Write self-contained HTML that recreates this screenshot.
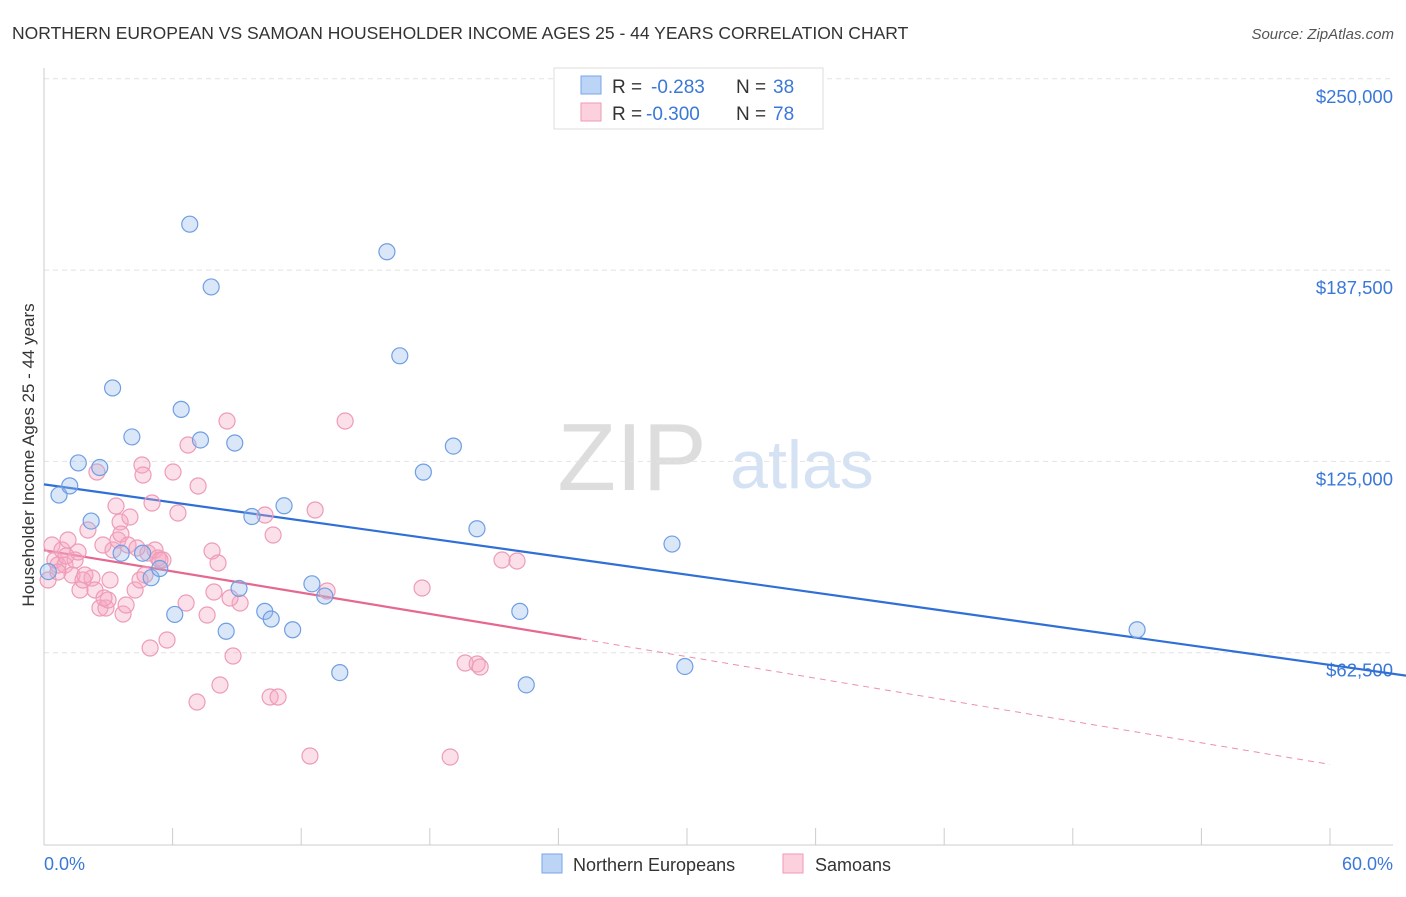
<!DOCTYPE html>
<html><head><meta charset="utf-8"><style>
body{margin:0;background:#fff;font-family:"Liberation Sans",sans-serif}
svg text{font-family:"Liberation Sans",sans-serif}
</style></head><body>
<svg id="chart" width="1406" height="892" viewBox="0 0 1406 892" xmlns="http://www.w3.org/2000/svg">
<text x="12" y="39" font-size="17.5" fill="#333">NORTHERN EUROPEAN VS SAMOAN HOUSEHOLDER INCOME AGES 25 - 44 YEARS CORRELATION CHART</text>
<text x="1394" y="39" font-size="15" fill="#555" text-anchor="end" font-style="italic">Source: ZipAtlas.com</text>
<g>
<text x="632" y="490" font-size="96" fill="#ddd" text-anchor="middle" font-family="Liberation Serif,serif">ZIP</text>
<text x="802" y="488" font-size="68" fill="#d4e2f4" text-anchor="middle">atlas</text>
</g>
<g id="grid"></g><g id="axes"></g>
<g id="lines"></g><g id="points"></g>
<text transform="translate(34,455) rotate(-90)" font-size="17" fill="#333" text-anchor="middle">Householder Income Ages 25 - 44 years</text>
<text x="44" y="870" font-size="18" fill="#3a78d8">0.0%</text>
<text x="1393" y="870" font-size="18" fill="#3a78d8" text-anchor="end">60.0%</text>
<g>
<rect x="554" y="68" width="269" height="61" fill="#fff" stroke="#ddd"/>
<rect x="581" y="76" width="20" height="18" fill="#bcd4f5" stroke="#7aa6e8"/>
<rect x="581" y="103" width="20" height="18" fill="#fcd0dd" stroke="#ef9ab5"/>
<text x="612" y="93" font-size="19" fill="#333">R =</text>
<text x="651" y="93" font-size="19" fill="#3a78d8">-0.283</text>
<text x="736" y="93" font-size="19" fill="#333">N =</text>
<text x="773" y="93" font-size="19" fill="#3a78d8">38</text>
<text x="612" y="120" font-size="19" fill="#333">R =</text>
<text x="646" y="120" font-size="19" fill="#3a78d8">-0.300</text>
<text x="736" y="120" font-size="19" fill="#333">N =</text>
<text x="773" y="120" font-size="19" fill="#3a78d8">78</text>
</g>
<g>
<rect x="542" y="854" width="20" height="19" fill="#bcd4f5" stroke="#7aa6e8"/>
<text x="573" y="871" font-size="18" fill="#333">Northern Europeans</text>
<rect x="783" y="854" width="20" height="19" fill="#fcd0dd" stroke="#ef9ab5"/>
<text x="815" y="871" font-size="18" fill="#333">Samoans</text>
</g>
</svg>
<script>
const yTicks=[62500,125000,187500,250000];
const yTickLabels=["$62,500","$125,000","$187,500","$250,000"];
const xTicks=[0,6,12,18,24,30,36,42,48,54,60];
const blueX=[0.2,0.7,1.2,1.6,2.2,2.6,3.2,3.6,4.1,5.0,5.4,6.1,6.4,6.8,7.3,7.8,8.5,8.9,9.1,9.7,10.3,10.6,11.2,11.6,12.5,13.1,13.8,16.0,16.6,17.7,19.1,20.2,22.2,22.5,29.3,29.9,51.0,4.6];
const blueY=[89000,114000,117000,124500,105500,123000,149000,95000,133000,87000,90000,75000,142000,202500,132000,182000,69500,131000,83500,107000,76000,73500,110500,70000,85000,81000,56000,193500,159500,121500,130000,103000,76000,52000,98000,58000,70000,95000];
const pinkX=[0.19,0.37,0.51,0.65,0.84,0.98,1.12,1.31,1.45,1.59,1.68,1.82,2.05,2.24,2.38,2.47,2.61,2.75,2.89,2.99,3.08,3.22,3.36,3.45,3.55,3.59,3.69,3.83,3.92,4.01,4.25,4.48,4.57,4.62,4.85,4.95,5.04,5.18,5.32,5.55,5.74,6.02,6.25,6.63,6.72,7.19,7.61,7.84,7.93,8.12,8.21,8.54,8.82,9.15,10.31,10.55,10.69,10.92,12.41,12.65,13.21,14.05,17.64,18.95,19.65,20.21,20.35,21.37,22.07,7.14,5.41,0.65,1.03,1.91,2.80,4.34,8.68,4.71];
const pinkY=[86250,97680,92780,91150,96050,91150,99320,87880,92780,95400,82980,86250,102580,86900,82980,121530,77100,97680,77100,79710,86250,96050,110420,99320,105200,101280,75140,78080,97680,106830,82980,86250,123820,120550,95070,64030,111400,96050,93440,92780,66650,121530,108140,78730,130350,116960,74810,95720,82330,91800,51950,138190,61420,78730,107480,48020,100950,48020,28750,109120,82660,138190,83640,28420,59130,58810,57830,92780,92460,46390,92780,88860,94090,87880,80370,96700,80370,87880];
const blueLine=[0,117500,60,58500];
const pinkLine=[0,96000,25.06,67000,60,26000];
const NS="http://www.w3.org/2000/svg";
const X=v=>44+v*(1286/60), Y=v=>844-v*(191.3/62500);
function mk(tag,attrs,parent){const e=document.createElementNS(NS,tag);for(const k in attrs)e.setAttribute(k,attrs[k]);parent.appendChild(e);return e;}
const grid=document.getElementById('grid'),axes=document.getElementById('axes');
yTicks.forEach((t,i)=>{
 const l=mk('line',{x1:44,x2:1393,y1:Y(t),y2:Y(t),stroke:'#e2e2e2','stroke-dasharray':'5,4'},grid);
 
 
 const tx=mk('text',{x:1393,y:Y(t)+24,'font-size':18.5,fill:'#3a78d8','text-anchor':'end'},axes);
 tx.textContent=yTickLabels[i];
 
 
});
const ax=mk('line',{x1:44,x2:1393,y1:845,y2:845,stroke:'#ccc'},axes);


const ay=mk('line',{x1:44,x2:44,y1:68,y2:845,stroke:'#ccc'},axes);


xTicks.forEach(t=>{const l=mk('line',{x1:X(t),x2:X(t),y1:828,y2:845,stroke:'#ccc'},axes);
 
 });
const lines=document.getElementById('lines');
const bl=mk('line',{x1:X(blueLine[0]),y1:Y(blueLine[1]),x2:X(blueLine[2]),y2:Y(blueLine[3]),stroke:'#2f6fd6','stroke-width':2.2},lines);


const blExt=mk('line',{x1:X(blueLine[2]),y1:Y(blueLine[3]),x2:1406,y2:Y(blueLine[3])+(Y(blueLine[3])-Y(blueLine[1]))/(X(60)-X(0))*(1406-X(60)),stroke:'#2f6fd6','stroke-width':2.2},lines);


const pl=mk('line',{x1:X(pinkLine[0]),y1:Y(pinkLine[1]),x2:X(pinkLine[2]),y2:Y(pinkLine[3]),stroke:'#e5688f','stroke-width':2.2},lines);


const pd=mk('line',{x1:X(pinkLine[2]),y1:Y(pinkLine[3]),x2:X(pinkLine[4]),y2:Y(pinkLine[5]),stroke:'#ec8fae','stroke-width':1,'stroke-dasharray':'6,5'},lines);


const pts=document.getElementById('points');
pinkX.forEach((v,i)=>{const c=mk('circle',{cx:X(v),cy:Y(pinkY[i]),r:8,fill:'rgba(246,166,192,0.35)',stroke:'#ee9bb7','stroke-width':1.2},pts);
 
 });
blueX.forEach((v,i)=>{const c=mk('circle',{cx:X(v),cy:Y(blueY[i]),r:8,fill:'rgba(150,185,235,0.35)',stroke:'#6f9ee3','stroke-width':1.2},pts);
 
 });
</script>
</body></html>
